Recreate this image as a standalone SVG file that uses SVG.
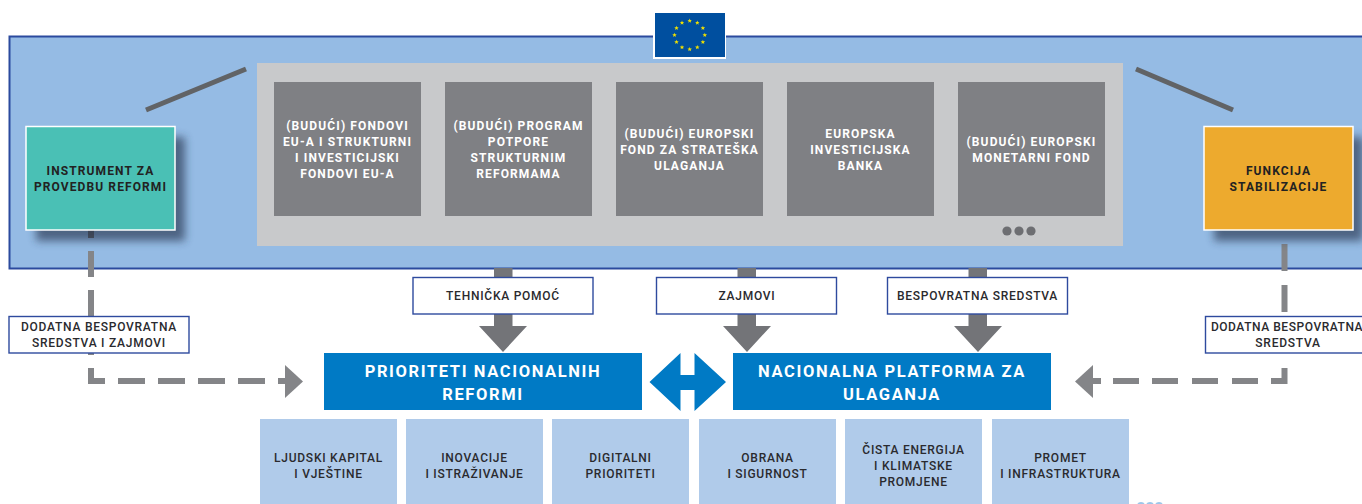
<svg xmlns="http://www.w3.org/2000/svg" width="1362" height="504" viewBox="0 0 1362 504">
<style>
text{font-family:Roboto,"Liberation Sans",sans-serif;text-anchor:middle}
.w{font-size:12px;font-weight:700;letter-spacing:1.12px;fill:#fff}
.k{font-size:12px;font-weight:700;letter-spacing:1.1px;fill:#222}
.l{font-size:12px;font-weight:500;letter-spacing:.75px;fill:#2a2a2e}
.h{font-size:16.5px;font-weight:700;letter-spacing:1.62px;fill:#fff}
.fund{fill:#7f8084}
.lab{fill:#fff;stroke:#2e4a9e;stroke-width:1.4}
.pri{fill:#b0cbea}
.big{fill:#007ac5}
.dash{fill:none;stroke:#848588;stroke-width:6}
.st{fill:#f0e000}
</style>
<defs>
<filter id="sh" x="-20%" y="-20%" width="150%" height="150%"><feGaussianBlur stdDeviation="4"/></filter>
<path id="star" class="st" d="M0-2.300.6-.7 2.200-.7 1 .4 1.400 2 0 1-1.400 2-1 .4-2.200-.7-.6-.7Z"/>
</defs>
<g id="eu-frame">
<rect x="9.500" y="36.500" width="1360" height="232" fill="#95bbe4" stroke="#2b4a9e" stroke-width="2"/>
<rect x="257" y="63" width="866" height="183" fill="#c8c9cb"/>
<path d="M146 110 246 69M1136 69 1233 110" stroke="#616366" stroke-width="5" fill="none"/>
<circle cx="1007" cy="231" r="4.600" fill="#6d6e72"/><circle cx="1019" cy="231" r="4.600" fill="#6d6e72"/><circle cx="1031" cy="231" r="4.600" fill="#6d6e72"/>
</g>
<g id="eu-flag">
<rect x="653" y="11" width="73" height="48" fill="#fff"/>
<rect x="655" y="13" width="70" height="44" fill="#004f9f"/>
<use href="#star" x="689.700" y="20.700"/><use href="#star" x="697.300" y="22.700"/><use href="#star" x="702.900" y="28"/><use href="#star" x="704.800" y="35"/><use href="#star" x="702.900" y="42"/><use href="#star" x="697.300" y="47.300"/><use href="#star" x="689.700" y="49.300"/><use href="#star" x="682" y="47.300"/><use href="#star" x="676.500" y="42"/><use href="#star" x="674.500" y="35"/><use href="#star" x="676.500" y="28"/><use href="#star" x="682" y="22.700"/>
</g>
<g id="connectors">
<path class="dash" d="M91 230V238" style="stroke:#5f6062"/>
<path class="dash" d="M91 251V277M91 290V318M91 350V355M91 368V381H105M118 381H145M158 381H185M198 381H225M238 381H265M278 381H287"/>
<path fill="#848588" d="M285 365 303 381.500 285 398Z"/>
<path class="dash" d="M1284.500 244V271M1284.500 285V312M1284.500 350V353M1284.500 368V381H1271M1258 381H1232M1218 381H1192M1178 381H1152M1139 381H1113M1101 381H1090"/>
<path fill="#848588" d="M1093 365 1075 381.500 1093 398Z"/>
<path fill="#737478" d="M494 268H512.500V326H527L503 352 479 326H494Z"/>
<path fill="#737478" d="M737.500 268H756V326H771L747 352 723 326H737.500Z"/>
<path fill="#737478" d="M968.500 268H987V326H1002L978 352 954 326H968.500Z"/>
</g>
<g id="instrument">
<rect x="36" y="137" width="149" height="104" fill="#26364f" opacity=".65" filter="url(#sh)"/>
<rect x="26" y="126.500" width="149" height="103.500" fill="#4ac0b5" stroke="#fff" stroke-width="1.500"/>
<text class="k" x="100.500" y="175">INSTRUMENT ZA</text><text class="k" x="100.500" y="191">PROVEDBU REFORMI</text>
</g>
<g id="stabilizacija">
<rect x="1214" y="137" width="149" height="104" fill="#26364f" opacity=".65" filter="url(#sh)"/>
<rect x="1204" y="126.500" width="149" height="103.500" fill="#edaa2e" stroke="#fff" stroke-width="1.500"/>
<text class="k" x="1278.500" y="175">FUNKCIJA</text><text class="k" x="1278.500" y="191">STABILIZACIJE</text>
</g>
<g id="fond-1"><rect class="fund" x="274" y="82" width="147" height="134"/>
<text class="w" x="347.500" y="129.500">(BUDUĆI) FONDOVI</text><text class="w" x="347.500" y="145.500">EU-A I STRUKTURNI</text><text class="w" x="347.500" y="161.500">I INVESTICIJSKI</text><text class="w" x="347.500" y="177.500">FONDOVI EU-A</text></g>
<g id="fond-2"><rect class="fund" x="445" y="82" width="147" height="134"/>
<text class="w" x="518.500" y="129.500">(BUDUĆI) PROGRAM</text><text class="w" x="518.500" y="145.500">POTPORE</text><text class="w" x="518.500" y="161.500">STRUKTURNIM</text><text class="w" x="518.500" y="177.500">REFORMAMA</text></g>
<g id="fond-3"><rect class="fund" x="616" y="82" width="147" height="134"/>
<text class="w" x="689.500" y="137.500">(BUDUĆI) EUROPSKI</text><text class="w" x="689.500" y="153.500">FOND ZA STRATEŠKA</text><text class="w" x="689.500" y="169.500">ULAGANJA</text></g>
<g id="fond-4"><rect class="fund" x="787" y="82" width="147" height="134"/>
<text class="w" x="860.500" y="137.500">EUROPSKA</text><text class="w" x="860.500" y="153.500">INVESTICIJSKA</text><text class="w" x="860.500" y="169.500">BANKA</text></g>
<g id="fond-5"><rect class="fund" x="958" y="82" width="147" height="134"/>
<text class="w" x="1031.500" y="145.500">(BUDUĆI) EUROPSKI</text><text class="w" x="1031.500" y="161.500">MONETARNI FOND</text></g>
<g id="label-dodatna-l"><rect class="lab" x="9" y="316.500" width="180" height="36.500"/>
<text class="l" x="99" y="331">DODATNA BESPOVRATNA</text><text class="l" x="99" y="347">SREDSTVA I ZAJMOVI</text></g>
<g id="label-tehnicka"><rect class="lab" x="413" y="277.500" width="180" height="36.500"/><text class="l" x="503" y="300">TEHNIČKA POMOĆ</text></g>
<g id="label-zajmovi"><rect class="lab" x="656.500" y="277.500" width="180" height="36.500"/><text class="l" x="747" y="300">ZAJMOVI</text></g>
<g id="label-bespovratna"><rect class="lab" x="887.500" y="277.500" width="180" height="36.500"/><text class="l" x="977.500" y="300">BESPOVRATNA SREDSTVA</text></g>
<g id="label-dodatna-r"><rect class="lab" x="1205.500" y="316.500" width="180" height="36.500"/>
<text class="l" x="1287" y="331" style="letter-spacing:.55px">DODATNA BESPOVRATNA</text><text class="l" x="1288" y="347">SREDSTVA</text></g>
<g id="prioriteti"><rect class="big" x="324" y="353" width="318" height="57"/>
<text class="h" x="483" y="377">PRIORITETI NACIONALNIH</text><text class="h" x="483" y="400">REFORMI</text></g>
<g id="platforma"><rect class="big" x="733" y="353" width="318" height="57"/>
<text class="h" x="892" y="377">NACIONALNA PLATFORMA ZA</text><text class="h" x="892" y="400">ULAGANJA</text></g>
<g id="dvosmjerna"><path class="big" d="M649.500 382 680.500 353V375H694.500V353L726 382 694.500 411V390H680.500V411Z"/></g>
<g id="pr-1"><rect class="pri" x="260" y="419" width="137" height="85"/><text class="l" x="328.500" y="462">LJUDSKI KAPITAL</text><text class="l" x="328.500" y="478">I VJEŠTINE</text></g>
<g id="pr-2"><rect class="pri" x="406" y="419" width="137" height="85"/><text class="l" x="474.500" y="462">INOVACIJE</text><text class="l" x="474.500" y="478">I ISTRAŽIVANJE</text></g>
<g id="pr-3"><rect class="pri" x="552" y="419" width="137" height="85"/><text class="l" x="620.500" y="462">DIGITALNI</text><text class="l" x="620.500" y="478">PRIORITETI</text></g>
<g id="pr-4"><rect class="pri" x="699" y="419" width="137" height="85"/><text class="l" x="767.500" y="462">OBRANA</text><text class="l" x="767.500" y="478">I SIGURNOST</text></g>
<g id="pr-5"><rect class="pri" x="845" y="419" width="137" height="85"/><text class="l" x="913.500" y="454">ČISTA ENERGIJA</text><text class="l" x="913.500" y="470">I KLIMATSKE</text><text class="l" x="913.500" y="486">PROMJENE</text></g>
<g id="pr-6"><rect class="pri" x="992" y="419" width="137" height="85"/><text class="l" x="1060.500" y="462">PROMET</text><text class="l" x="1060.500" y="478">I INFRASTRUKTURA</text></g>
<g id="tocke" fill="#9cc6ea"><circle cx="1141" cy="506" r="4"/><circle cx="1150" cy="506" r="4"/><circle cx="1159" cy="506" r="4"/></g>
</svg>
